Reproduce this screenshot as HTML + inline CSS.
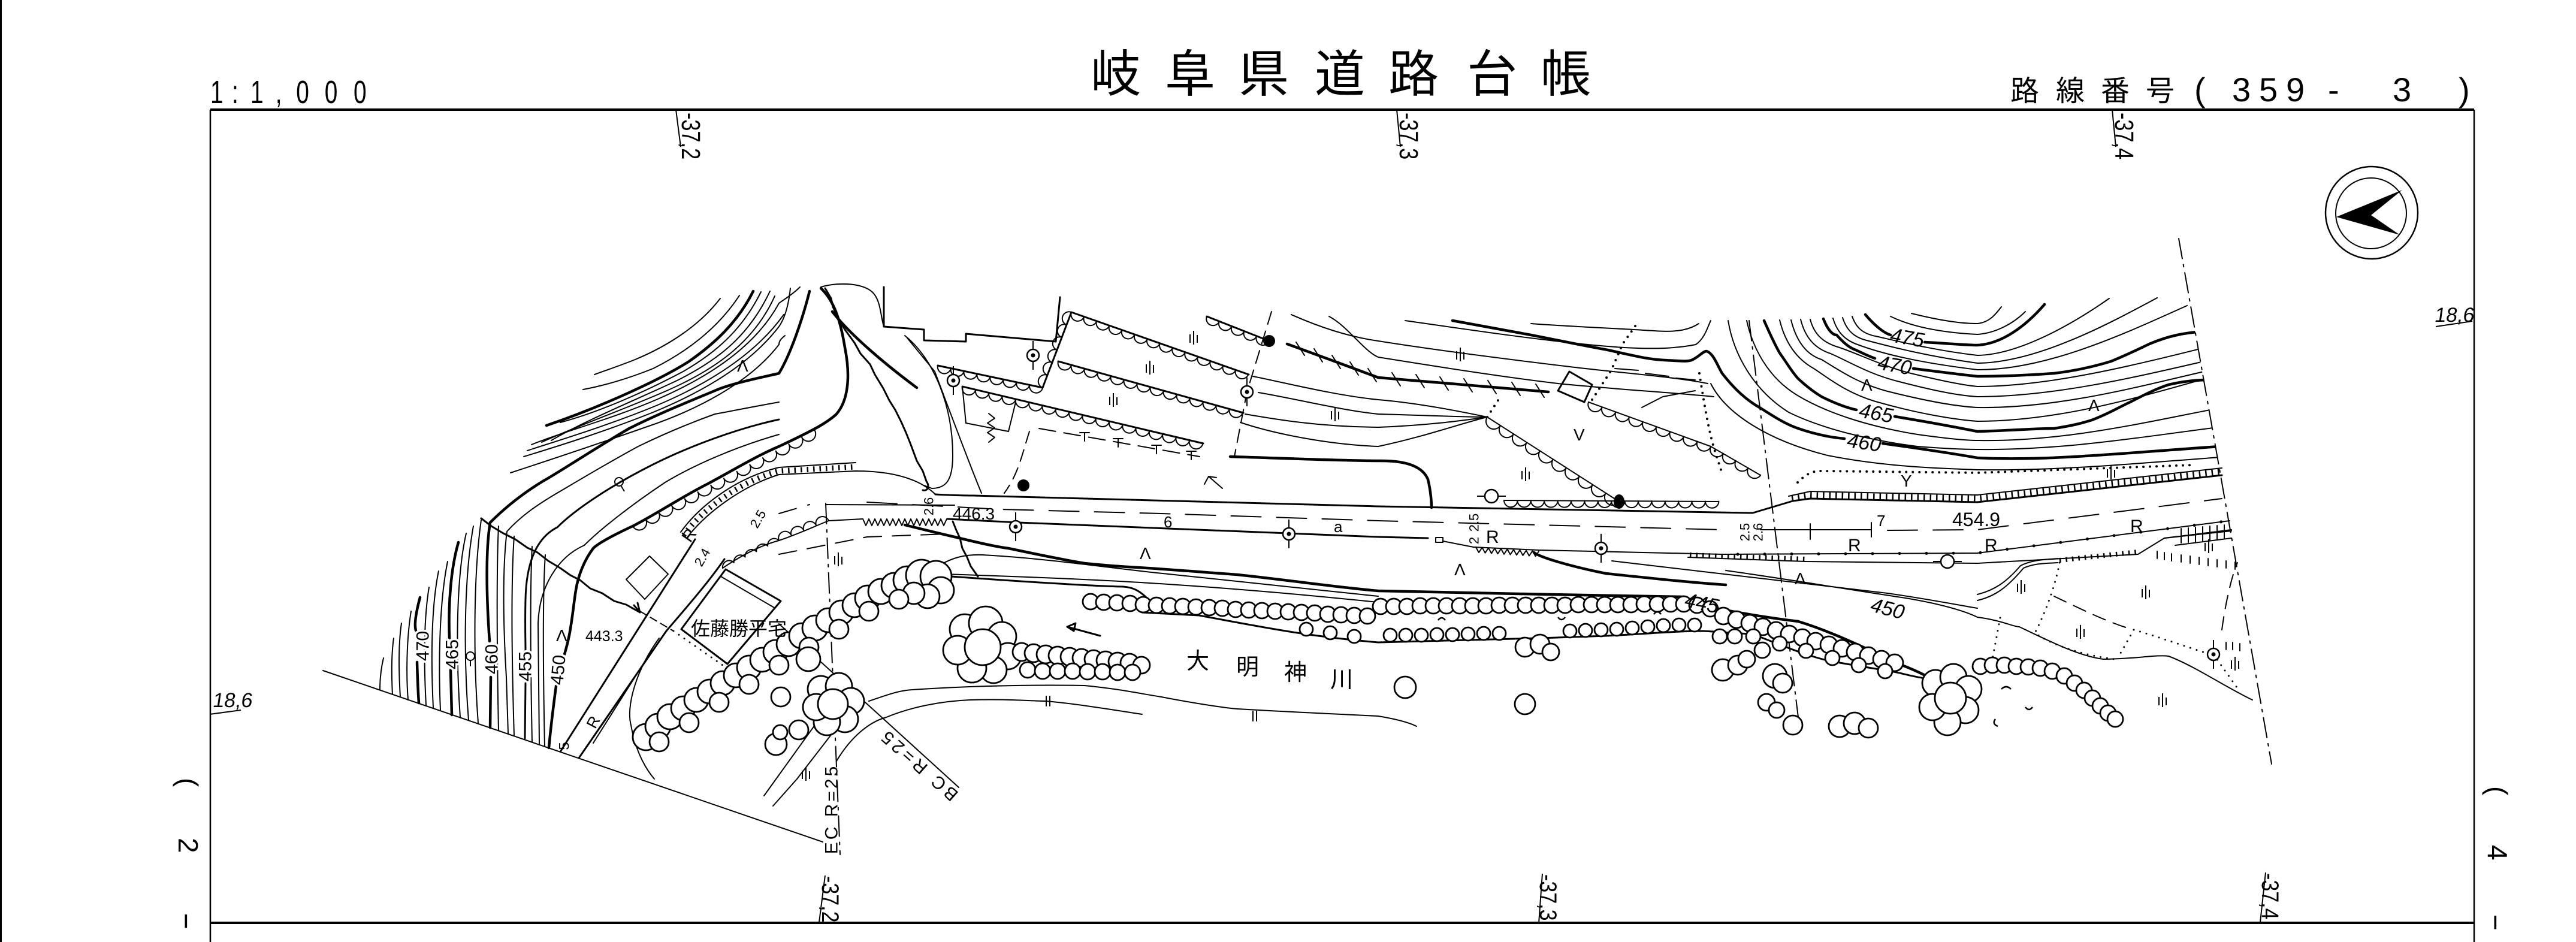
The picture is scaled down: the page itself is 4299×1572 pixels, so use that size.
<!DOCTYPE html>
<html><head><meta charset="utf-8">
<style>
html,body{margin:0;padding:0;background:#fff;width:4299px;height:1572px;overflow:hidden}
svg{display:block}
.l path,.l polygon{fill:none;stroke:#000;stroke-linecap:round;stroke-linejoin:round}
.l .t{stroke-width:2}
.l .m{stroke-width:3}
.l .k{stroke-width:4.5}
.l .dd{stroke-dasharray:34 10 4 10}
.l .dt{stroke-width:4;stroke-dasharray:0 11}
.l .h{stroke-linecap:butt;stroke-width:10;stroke-dasharray:2.5 8}
.tr circle{fill:#fff;stroke:#000;stroke-width:2.8}
text{font-family:"Liberation Sans","Noto Sans CJK JP",sans-serif;fill:#000;stroke:none}
.lb{paint-order:stroke;stroke:#fff;stroke-width:7px}
</style></head>
<body>
<svg width="4299" height="1572" viewBox="0 0 4299 1572" xmlns="http://www.w3.org/2000/svg">
<defs>
<clipPath id="cr"><path d="M2700,0 L3566,0 L3636,398 L3800,1330 L2700,1330 Z"/></clipPath>
<g id="ob"><circle r="10" fill="#fff" stroke="#000" stroke-width="2.5"/><circle r="3.5" fill="#000"/><path d="M0,-10V-24M0,10V24" stroke="#000" stroke-width="2"/></g>
<g id="oc"><circle r="11" fill="#fff" stroke="#000" stroke-width="2.5"/><path d="M-11,0H-24M11,0H24" stroke="#000" stroke-width="2"/></g>
<g id="gr"><path d="M0,0V-14M6,3V-20M12,0V-13" stroke="#000" stroke-width="2" fill="none"/></g>
</defs>
<rect width="4299" height="1572" fill="#fff"/>

<!-- frame -->
<line x1="1.5" y1="0" x2="1.5" y2="1572" stroke="#000" stroke-width="3"/>
<path d="M351,183H4129M351,1540H4129" stroke="#000" stroke-width="4"/>
<path d="M351,183V1572M4129,183V1572" stroke="#000" stroke-width="2.5"/>

<!-- header texts -->
<text transform="translate(351,172) scale(0.72,1)" font-size="54" x="0 50 93 151 199 265 332" y="0">1:1,000</text>
<text font-size="84" y="153" x="1820 1944 2067 2194 2317 2448 2571">岐阜県道路台帳</text>
<text font-size="48" y="168" x="3355 3431 3506 3581">路線番号</text>
<text font-size="56" y="169" x="3662 3725 3770 3815 3885 3993 4103">(359-3)</text>

<!-- grid labels -->
<g stroke="#000" stroke-width="2" fill="none">
<path d="M1128,183 L1136,245"/><path d="M2331,183 L2337,245"/><path d="M3525,183 L3531,245"/>
<path d="M1377,1461 L1367,1539"/><path d="M2574,1458 L2568,1541"/><path d="M3781,1456 L3772,1539"/>
<path d="M350,1192 L402,1185"/><path d="M4065,545 L4126,536"/>
</g>
<text font-size="44" transform="translate(1138,188) rotate(90) scale(0.78,1)">-37,2</text>
<text font-size="44" transform="translate(2336,188) rotate(90) scale(0.78,1)">-37,3</text>
<text font-size="44" transform="translate(3530,188) rotate(90) scale(0.78,1)">-37,4</text>
<text font-size="40" transform="translate(1372,1462) rotate(90) scale(0.85,1)">-37,2</text>
<text font-size="40" transform="translate(2570,1459) rotate(90) scale(0.85,1)">-37,3</text>
<text font-size="40" transform="translate(3775,1457) rotate(90) scale(0.85,1)">-37,4</text>
<text font-size="34" transform="translate(354,1180) skewX(-8)">18,6</text>
<text font-size="34" transform="translate(4062,537) skewX(-8)">18,6</text>
<text font-size="46" transform="translate(298,1298) rotate(90)">(</text>
<text font-size="46" transform="translate(298,1398) rotate(90)">2</text>
<text font-size="46" transform="translate(298,1522) rotate(90) scale(2,1)">-</text>
<text font-size="46" transform="translate(4152,1312) rotate(90)">(</text>
<text font-size="46" transform="translate(4152,1410) rotate(90)">4</text>
<text font-size="46" transform="translate(4152,1524) rotate(90) scale(2,1)">-</text>

<!-- north arrow -->
<circle cx="3958" cy="355" r="77" fill="none" stroke="#000" stroke-width="2.5"/>
<circle cx="3957" cy="356" r="59" fill="none" stroke="#000" stroke-width="2"/>
<path d="M3899,362 L4009,317 L3957,359 L4005,392 Z" fill="#000"/>

<g class="l">
<!-- map boundary -->
<path class="t" d="M539,1119 L1373,1405"/>
<path class="t dd" d="M3636,398 L3791,1275"/>
<path class="t dd" d="M2919,535 L3001,1197"/>
<path class="t dd" d="M1378,840 L1402,1426"/>

<!-- upper-left contours -->
<path class="t" d="M1335,479 C1322,492 1308,500 1300,506 C1260,580 1180,630 1100,665 C1020,700 940,720 887,742"/>
<path class="t" d="M1319,481 C1316,510 1309,532 1300,545 C1250,610 1170,655 1090,688 C1010,720 930,745 874,762"/>
<path class="t" d="M1202,498 C1170,540 1120,575 1060,600 C1030,612 1005,620 992,625"/>
<path class="t" d="M1234,493 C1200,545 1150,585 1090,615 C1040,635 1000,645 973,650"/>
<path class="k" d="M1257,486 C1230,540 1190,575 1150,603 C1100,635 1000,680 912,710"/>
<path class="t" d="M1270,487 C1238,552 1192,590 1140,620 C1080,652 1000,688 935,705"/>
<path class="t" d="M1285,486 C1250,560 1200,600 1130,635 C1060,668 980,700 920,735"/>
<path class="t" d="M1293,494 C1258,572 1192,617 1115,651 C1040,684 960,712 904,738"/>
<path class="t" d="M1308,525 C1258,595 1176,643 1095,677 C1015,710 935,734 880,752"/>
<path class="t" d="M1310,560 C1300,568 1300,572 1300,575 C1250,640 1160,685 1080,712 C1000,740 910,770 852,789"/>
<path class="k" d="M1351,486 C1340,530 1320,590 1300,623 C1270,630 1220,640 1193,652 C1150,670 1100,690 1050,715 C990,750 930,790 906,803 C870,825 840,850 818,872 C810,920 812,1000 817,1070 M819,1130 L818,1214"/>
<path class="t" d="M1300,671 C1250,680 1210,688 1193,691 C1140,710 1100,728 1065,745 C1010,775 960,805 938,818 C900,840 870,860 846,887 C838,950 840,1050 845,1130 L848,1224"/>
<path class="m" d="M1300,700 C1230,715 1150,745 1090,775 C1020,810 960,850 930,880 C890,900 878,950 877,1000 C876,1040 877,1070 877,1085 M877,1140 L876,1232"/>
<path class="t" d="M1300,725 C1230,745 1160,775 1110,805 C1050,845 1000,885 975,910 C930,930 900,980 898,1040 L900,1241"/>
<path class="t" d="M832,878 C828,960 830,1120 832,1219"/>
<path class="t" d="M858,895 C852,980 855,1130 858,1228"/>
<path class="t" d="M888,912 C884,990 886,1140 888,1239"/>
<path class="t" d="M910,926 C905,1000 907,1150 909,1246"/>
<path class="t" d="M640,1098 C636,1115 634,1135 634,1151"/>
<path class="t" d="M657,1065 C652,1100 654,1140 655,1159"/>
<path class="t" d="M670,1040 C664,1080 666,1130 668,1163"/>
<path class="t" d="M686,1020 C678,1070 678,1130 681,1168"/>
<path class="k" d="M701,997 C692,1030 692,1045 694,1052 M696,1105 C697,1140 698,1160 699,1173"/>
<path class="t" d="M716,980 C706,1040 708,1120 711,1177"/>
<path class="t" d="M732,953 C718,1020 720,1120 723,1181"/>
<path class="t" d="M747,937 C732,1010 732,1120 735,1185"/>
<path class="k" d="M765,905 C752,950 748,1010 750,1065 M752,1118 L754,1193"/>
<path class="t" d="M778,890 C762,960 760,1080 768,1197"/>
<path class="t" d="M790,878 C775,960 773,1090 782,1202"/>
<path class="t" d="M803,868 C790,960 790,1100 798,1207"/>
<path class="k" d="M1370,481 C1390,500 1402,530 1410,580 C1420,630 1415,670 1395,692 C1380,705 1364,715 1300,745 C1260,762 1225,784 1180,808 C1140,828 1100,855 1058,877 C1030,890 1000,905 990,915 C975,935 965,960 961,985 C957,1010 955,1035 950,1060 C947,1075 944,1085 942,1092 M928,1145 C924,1175 919,1215 916,1248"/>
<path class="t" d="M1056,878a12 12 0 0 0 21.7-11.4a12 12 0 0 0 21.7-11.4a12 12 0 0 0 21.7-11.4a12 12 0 0 0 21.7-11.4a12 12 0 0 0 21.7-11.4a12 12 0 0 0 21.7-11.4a12 12 0 0 0 21.7-11.4a12 12 0 0 0 21.7-11.4a12 12 0 0 0 21.7-11.4a12 12 0 0 0 21.7-11.4a12 12 0 0 0 21.7-11.4a12 12 0 0 0 21.7-11.4a12 12 0 0 0 21.7-11.4a12 12 0 0 0 21.7-11.4"/>
<!-- cliff lines -->
<path class="m" d="M1377,481 L1387,498 L1390,512 L1398,530 L1410,550 L1426,572 L1436,590 L1452,608 L1460,625 L1474,648 L1484,668 L1494,684 L1504,704 L1512,722 L1520,742 L1530,769 L1540,786 L1546,803 C1552,812 1548,820 1540,818"/>
<path class="m" d="M803,865 L820,878 L840,890 L860,900 L880,914 L897,922 L915,936 L935,948 L952,960 L968,968 L985,982 L1005,990 L1025,1003 L1045,1009 L1068,1022 M1058,1010 L1068,1022 L1064,1006"/>
<path class="k" d="M1389,520 C1420,560 1480,610 1530,647"/>
<path class="t" d="M1370,479 C1400,470 1445,472 1459,491 C1470,505 1470,530 1475,545"/>
<path class="m" d="M1475,479 L1475,545 L1542,550 L1542,568 L1612,570 L1612,557 L1762,570 L1769,496"/>
<path class="t" d="M1510,560 C1560,600 1590,680 1590,760 C1590,800 1580,815 1555,815 L1542,810"/>
<path class="t" d="M1514,564 L1560,620 C1590,700 1620,780 1638,823"/>
<path class="t" d="M1606,645 L1612,706 L1683,720 L1695,671"/>
<path class="t" d="M1650,690 l10,8 l-12,8 l12,8 l-12,8 l12,8 l-10,8"/>

<!-- fields -->
<path class="m" d="M1788,521 L2084,625 M1766,603 L2075,689 M1565,610 L1740,647 M1606,645 L2008,740 M1788,521 L1740,647 M2014,528 L2118,569"/>
<path class="t" d="M1788,521a11 11 0 0 0 21.1 7.4a11 11 0 0 0 21.1 7.4a11 11 0 0 0 21.1 7.4a11 11 0 0 0 21.1 7.4a11 11 0 0 0 21.1 7.4a11 11 0 0 0 21.1 7.4a11 11 0 0 0 21.1 7.4a11 11 0 0 0 21.1 7.4a11 11 0 0 0 21.1 7.4a11 11 0 0 0 21.1 7.4a11 11 0 0 0 21.1 7.4a11 11 0 0 0 21.1 7.4a11 11 0 0 0 21.1 7.4a11 11 0 0 0 21.1 7.4"/>
<path class="t" d="M1766,603a11 11 0 0 0 22 6.1a11 11 0 0 0 22 6.1a11 11 0 0 0 22 6.1a11 11 0 0 0 22 6.1a11 11 0 0 0 22 6.1a11 11 0 0 0 22 6.1a11 11 0 0 0 22 6.1a11 11 0 0 0 22 6.1a11 11 0 0 0 22 6.1a11 11 0 0 0 22 6.1a11 11 0 0 0 22 6.1a11 11 0 0 0 22 6.1a11 11 0 0 0 22 6.1a11 11 0 0 0 22 6.1"/>
<path class="t" d="M1565,610a11 11 0 0 0 21.9 4.6a11 11 0 0 0 21.9 4.6a11 11 0 0 0 21.9 4.6a11 11 0 0 0 21.9 4.6a11 11 0 0 0 21.9 4.6a11 11 0 0 0 21.9 4.6a11 11 0 0 0 21.9 4.6a11 11 0 0 0 21.9 4.6"/>
<path class="t" d="M1606,645a11 11 0 0 0 22.3 5.3a11 11 0 0 0 22.3 5.3a11 11 0 0 0 22.3 5.3a11 11 0 0 0 22.3 5.3a11 11 0 0 0 22.3 5.3a11 11 0 0 0 22.3 5.3a11 11 0 0 0 22.3 5.3a11 11 0 0 0 22.3 5.3a11 11 0 0 0 22.3 5.3a11 11 0 0 0 22.3 5.3a11 11 0 0 0 22.3 5.3a11 11 0 0 0 22.3 5.3a11 11 0 0 0 22.3 5.3a11 11 0 0 0 22.3 5.3a11 11 0 0 0 22.3 5.3a11 11 0 0 0 22.3 5.3a11 11 0 0 0 22.3 5.3a11 11 0 0 0 22.3 5.3"/>
<path class="t" d="M1788,521a11 11 0 0 0 -8 21a11 11 0 0 0 -8 21a11 11 0 0 0 -8 21a11 11 0 0 0 -8 21a11 11 0 0 0 -8 21a11 11 0 0 0 -8 21"/>
<path class="t" d="M2014,528a11 11 0 0 0 20.8 8.2a11 11 0 0 0 20.8 8.2a11 11 0 0 0 20.8 8.2a11 11 0 0 0 20.8 8.2a11 11 0 0 0 20.8 8.2"/>
<path class="t" style="stroke-dasharray:28 14" d="M1734,715 L2002,762"/>
<path class="t" d="M1802,722h16M1810,722v14M1858,732h16M1866,732v14M1922,743h16M1930,743v14M1980,753h16M1988,753v14"/>
<path class="t" style="stroke-dasharray:20 12" d="M1718,720 C1705,760 1700,790 1676,823"/>
<path class="t" style="stroke-dasharray:22 12" d="M2122,520 L2081,654 L2060,762"/>
<path class="t" d="M2040,815 L2017,795 M2010,808 L2017,795 L2030,797"/>

<!-- Z4/Z5 upper lines -->
<path class="t" d="M2155,525 C2200,545 2250,562 2300,569 C2400,585 2520,600 2620,612 C2700,622 2790,628 2850,640"/>
<path class="t" d="M2218,528 C2250,545 2275,585 2300,596 C2400,612 2500,628 2600,640 C2700,650 2790,655 2860,662"/>
<path class="t" d="M2091,628 C2150,640 2230,660 2300,667 C2360,672 2430,685 2482,696"/>
<path class="t" d="M2100,655 C2160,665 2240,685 2300,691 C2380,693 2440,696 2482,696"/>
<path class="t" d="M2078,691 C2130,700 2200,712 2300,713 C2380,710 2440,702 2482,696"/>
<path class="t" d="M2070,705 C2130,725 2220,742 2300,745 C2380,728 2440,706 2482,696"/>
<path class="k" d="M2053,762 C2150,765 2250,769 2300,769 C2350,768 2375,780 2383,800 C2388,820 2389,840 2389,847"/>
<path class="k" d="M2148,574 L2230,604 L2300,630 L2584,654"/>
<path class="t" d="M2163,571l14,22M2193,582l14,22M2223,593l14,22M2253,604l14,22M2283,615l14,22M2323,622l14,22M2363,625l14,22M2403,629l14,22M2443,632l14,22M2483,635l14,22M2523,638l14,22M2563,641l14,22"/>
<path class="t" d="M2345,535 C2450,550 2550,565 2650,575 C2720,582 2780,585 2830,575 C2845,565 2850,545 2855,535"/>
<path class="t" d="M2555,540 C2620,545 2700,548 2760,552 C2800,555 2820,550 2835,540"/>
<path class="k" d="M2424,535 C2480,545 2520,553 2555,559 C2610,570 2650,578 2683,584 C2720,592 2750,600 2778,601 C2800,602 2815,604 2823,601 C2835,596 2842,586 2848,586 C2860,590 2866,610 2874,623 C2895,650 2915,668 2938,681 C2960,695 2980,708 3001,715 C3030,725 3055,730 3078,732"/>
<path class="dt" d="M2657,667 L2689,618 L2708,574 L2734,537"/>
<path class="dt" d="M2836,623 C2845,680 2852,720 2861,750 L2874,790"/>
<path class="dt" d="M2482,696 L2504,662"/>
<path class="t" d="M2695,615 L2734,618 M2746,623 L2785,628 M2797,631 L2829,634 M2740,680 L2775,662 L2829,652"/>
<polygon class="m" points="2619,620 2657,642 2644,671 2600,652"/>
<path class="t" d="M2482,696 L2702,837 M2651,671 L2855,745 L2938,793 M2510,835 L2868,837"/>
<path class="t" d="M2482,696a13 13 0 0 0 22 14.1a13 13 0 0 0 22 14.1a13 13 0 0 0 22 14.1a13 13 0 0 0 22 14.1a13 13 0 0 0 22 14.1a13 13 0 0 0 22 14.1a13 13 0 0 0 22 14.1a13 13 0 0 0 22 14.1a13 13 0 0 0 22 14.1a13 13 0 0 0 22 14.1"/>
<path class="t" d="M2651,671a12 12 0 0 0 22.7 8.2a12 12 0 0 0 22.7 8.2a12 12 0 0 0 22.7 8.2a12 12 0 0 0 22.7 8.2a12 12 0 0 0 22.7 8.2a12 12 0 0 0 22.7 8.2a12 12 0 0 0 22.7 8.2a12 12 0 0 0 22.7 8.2a12 12 0 0 0 22.7 8.2a12 12 0 0 0 20.75 12a12 12 0 0 0 20.75 12a12 12 0 0 0 20.75 12a12 12 0 0 0 20.75 12"/>
<path class="t" d="M2510,835a11 11 0 0 0 22.4 0.1a11 11 0 0 0 22.4 0.1a11 11 0 0 0 22.4 0.1a11 11 0 0 0 22.4 0.1a11 11 0 0 0 22.4 0.1a11 11 0 0 0 22.4 0.1a11 11 0 0 0 22.4 0.1a11 11 0 0 0 22.4 0.1a11 11 0 0 0 22.4 0.1a11 11 0 0 0 22.4 0.1a11 11 0 0 0 22.4 0.1a11 11 0 0 0 22.4 0.1a11 11 0 0 0 22.4 0.1a11 11 0 0 0 22.4 0.1a11 11 0 0 0 22.4 0.1a11 11 0 0 0 22.4 0.1"/>

<!-- right contours (clipped) -->
<g clip-path="url(#cr)">
<path class="t" d="M3190,523 C3230,533 3270,540 3300,540 C3320,538 3330,525 3340,512"/>
<path class="t" d="M3155,528 C3190,545 3240,555 3300,558 C3330,556 3360,540 3380,520"/>
<path class="k" d="M3113,525 C3130,545 3145,556 3155,559 M3212,571 C3250,573 3280,576 3300,576 C3340,574 3380,545 3412,508"/>
<path class="t" d="M3091,528 C3098,548 3110,557 3130,561 C3170,570 3230,585 3300,593 C3370,592 3460,540 3520,498"/>
<path class="t" d="M3075,530 C3082,552 3095,563 3115,568 C3160,580 3220,595 3300,606 C3400,605 3520,540 3600,497"/>
<path class="t" d="M3059,531 C3066,555 3080,568 3100,575 C3140,590 3200,605 3300,617 C3420,618 3560,550 3650,510"/>
<path class="k" d="M3043,532 C3050,550 3058,559 3065,559 C3075,570 3085,580 3097,584 C3110,590 3120,595 3129,598 M3193,615 C3240,621 3280,626 3300,628 C3350,628 3400,625 3428,623 C3470,618 3500,610 3523,603 C3550,592 3570,582 3587,574 C3620,560 3645,555 3690,552"/>
<path class="t" d="M3021,533 C3028,560 3045,573 3070,580 C3100,590 3140,610 3185,622 C3230,633 3270,642 3300,645 C3420,645 3560,610 3700,575"/>
<path class="t" d="M3005,533 C3013,565 3030,582 3055,590 C3085,603 3120,625 3170,637 C3220,650 3265,660 3300,662 C3430,662 3570,628 3700,598"/>
<path class="t" d="M2989,534 C2998,570 3015,592 3040,600 C3065,615 3100,640 3150,653 C3210,668 3260,678 3300,680 C3440,682 3580,642 3700,615"/>
<path class="t" d="M2970,534 C2980,575 3000,600 3027,615 C3050,630 3080,655 3130,670 C3200,690 3260,700 3300,703 C3440,703 3580,660 3705,625"/>
<path class="k" d="M2944,535 C2955,560 2962,575 2970,589 C2985,610 2990,620 3001,632 C3015,645 3030,656 3040,662 C3060,672 3080,680 3098,684 M3162,695 C3210,703 3260,712 3300,720 C3360,718 3400,715 3428,715 C3460,710 3475,706 3491,701 C3520,690 3535,680 3555,671 C3580,658 3600,648 3619,642 C3640,637 3660,634 3705,633"/>
<path class="t" d="M2915,535 C2925,580 2950,630 3000,660 C3050,690 3120,712 3200,725 C3250,732 3280,735 3300,735 C3450,738 3600,700 3710,680"/>
<path class="t" d="M2884,535 C2893,590 2925,650 2985,688 C3040,715 3120,735 3200,745 C3250,749 3280,750 3300,750 C3450,752 3600,725 3710,712"/>
<path class="k" d="M3142,740 C3200,748 3260,757 3300,764 C3420,770 3550,755 3720,744"/>
<path class="t" d="M2855,640 C2880,690 2950,735 3050,760 C3150,780 3250,782 3300,784 C3450,786 3600,770 3720,762"/>
<path class="dt" d="M3000,805 C3010,795 3020,788 3033,786 L3300,789 L3660,776"/>
</g>

<!-- main road -->
<path class="m" d="M1561,825 C1580,826 1600,827 1625,827 L2300,845 L2925,856 L2992,836 L3021,832 L3300,838 L3708,793"/>
<path class="t" d="M2985,828 L3021,820 L3300,826 L3708,781"/>
<path class="h" stroke="#000" d="M2990,831 L3021,826 L3300,832 L3708,787"/>
<path class="t" style="stroke-dasharray:50 26" d="M1447,838 L1670,850 L1938,857 L2300,869 L2874,884"/>
<path class="t" d="M2938,884 L3123,884 M3123,872 V896 M3021,874 V900"/>
<path class="t" style="stroke-dasharray:50 26" d="M3150,885 L3300,884 L3708,832"/>
<path class="t" d="M1378,842 L1593,843"/>
<path class="t" style="stroke-dasharray:30 20" d="M1300,857 L1351,842"/>
<path class="m" d="M1581,866 L1700,872 L2300,896 L2383,898"/>
<path class="t" d="M2396,897 h12 v8 h-12 z M2408,903 L2459,913 L2568,918 L2874,925 L3300,923 L3721,869"/>
<path style="stroke-width:5;stroke-dasharray:0 45" d="M2900,925 L3300,923 L3721,869"/>
<path class="t" d="M2817,930 L3014,937 L3300,940 L3568,925 L3612,898 L3724,886"/>
<path class="h" stroke="#000" style="stroke-width:8" d="M2820,926 L3014,933"/>
<path class="h" stroke="#000" style="stroke-width:8" d="M3437,935 L3568,921"/>
<path class="t" d="M3612,898 L3724,884 M3630,910 L3724,898 M3640,882V906M3652,881V905M3664,880V904M3676,879V903M3688,878V901M3700,877V900M3712,876V898"/>
<path class="t" d="M2463,913l5,9l5.5,-8.3l5,9l5.5,-8.3l5,9l5.5,-8.3l5,9l5.5,-8.3l5,9l5.5,-8.3l5,9l5.5,-8.3l5,9l5.5,-8.3l5,9l5.5,-8.3l5,9l5.5,-8.3l5,9l5.5,-8.3"/>
<path class="t" d="M1440,866l5,11l5,-11l5,11l5,-11l5,11l5,-11l5,11l5,-11l5,11l5,-11l5,11l5,-11l5,11l5,-11l5,11l5,-11l5,11l5,-11l5,11l5,-11l5,11l5,-11l5,11l5,-11l5,11l5,-11l5,11l5,-11"/>

<!-- left road -->
<path class="t" d="M1136,888 C1166,846 1226,798 1300,780 L1428,772"/>
<path class="t" d="M1146,898 C1176,858 1236,812 1300,792 L1428,786 C1480,786 1530,795 1561,825"/>
<path class="h" stroke="#000" style="stroke-width:9" d="M1141,893 C1171,852 1231,805 1300,786 L1428,779"/>
<path class="m" d="M1160,900 L936,1253"/>
<path class="m" d="M1209,933 C1180,975 1140,1020 1112,1053 L966,1265"/>
<path class="t" d="M1100,1065 C1060,1120 1045,1180 1053,1210 C1060,1250 1075,1280 1092,1300"/>
<path class="t" d="M1088,1085 L990,1240"/>
<path class="t" d="M1206,948 C1240,925 1270,910 1300,902 C1330,892 1360,878 1383,869 L1440,866"/>
<path class="t" d="M1206,948a11 11 0 0 1 18.8-9.2a11 11 0 0 1 18.8-9.2a11 11 0 0 1 18.8-9.2a11 11 0 0 1 18.8-9.2a11 11 0 0 1 18.8-9.2a11 11 0 0 1 20.75-8.25a11 11 0 0 1 20.75-8.25a11 11 0 0 1 20.75-8.25a11 11 0 0 1 20.75-8.25"/>
<path class="t" style="stroke-dasharray:30 18" d="M1300,925 L1447,896 L1581,891"/>
<path class="t" style="stroke-dasharray:12 8" d="M1068,1020 L1124,1053"/>
<path class="dt" style="stroke-width:3" d="M1124,1053 L1216,1117"/>
<polygon class="m" points="1211,950 1303,1003 1214,1108 1137,1050"/>
<path class="t" d="M1203,962 L1292,1014"/>
<polygon class="t" points="1084,928 1115,958 1076,1000 1045,967"/>
<path class="t" d="M1300,1041 L1600,1314"/>
<path class="t" d="M1415,1190 L1330,1300 L1290,1345 M1380,1182 L1275,1328"/>

<!-- lines below road / river -->
<path class="k" d="M2560,922 C2570,930 2620,945 2680,957 C2746,964 2820,972 2880,976 2938,979 C3010,986 3080,995 3122,1003 M3180,1022 C3220,1032 3260,1042 3300,1048 C3380,1065 3450,1100 3510,1112 C3560,1115 3595,1105 3619,1107 C3645,1110 3660,1120 3670,1129 C3690,1145 3705,1162 3721,1178"/>
<path class="t" d="M2690,936 C2850,955 3000,972 3150,990 C3220,1000 3270,1010 3300,1015"/>
<path class="t" d="M2880,952 C2980,966 3080,983 3180,998 C3240,1008 3280,1020 3300,1030 C3340,1035 3360,1046 3370,1046 C3420,1070 3470,1095 3510,1100 C3560,1100 3600,1092 3619,1095 C3660,1110 3720,1150 3759,1168"/>
<path class="t" d="M3300,1002 C3330,995 3350,980 3377,948 C3395,940 3415,940 3434,939 M3300,992 C3328,985 3348,972 3372,944 C3392,934 3412,934 3434,932"/>
<path class="dt" style="stroke-width:3" d="M3437,939 C3430,980 3410,1030 3396,1056 C3420,1075 3480,1095 3530,1100"/>
<path class="t" style="stroke-dasharray:22 14" d="M3428,995 C3470,1015 3520,1040 3561,1051"/>
<path class="dt" style="stroke-width:3" d="M3561,1051 C3600,1062 3650,1080 3683,1090 M3561,1051 L3536,1095 M3338,1031 L3325,1100 M3694,1092 L3735,1150"/>
<path class="t" style="stroke-dasharray:22 14" d="M3708,1051 C3715,1000 3725,960 3734,939"/>
<path class="t" d="M3600,920v12M3612,922v12M3624,924v12M3640,926v12M3655,928v12M3670,930v12M3685,932v12M3700,934v12M3715,936v12M3730,938v12M3715,1072v12M3726,1072v12M3738,1074v12"/>
<path class="k" d="M1510,876 C1550,886 1580,893 1593,896 C1630,905 1660,912 1683,915 C1730,925 1780,935 1810,940 C1850,944 1880,946 1899,947 C1950,950 2010,955 2065,959 C2150,968 2230,980 2300,986 C2450,990 2650,993 2810,996 M2868,1016 C2920,1026 2960,1032 3001,1037 C3060,1055 3120,1085 3174,1110 C3195,1118 3210,1125 3225,1134"/>
<path class="t" d="M1565,945 C1590,930 1610,925 1640,926 C1750,932 1850,948 1950,958 C2050,968 2200,985 2300,995"/>
<path class="t" d="M1574,958 C1700,962 1850,968 1950,975 C2100,985 2200,995 2300,1005"/>
<path class="m" d="M1587,962 C1700,970 1820,978 1874,979 C1890,980 1900,985 1912,996"/>
<path class="m" d="M1590,870 L1596,885 L1602,898 L1606,915 L1614,930 L1620,945 L1632,962"/>
<path class="t" d="M1396,1270 C1420,1230 1450,1205 1479,1197 C1520,1180 1570,1170 1619,1168 C1680,1166 1720,1170 1746,1170 C1800,1175 1860,1185 1906,1192"/>
<path class="t" d="M1450,1170 C1480,1160 1500,1152 1523,1151 C1600,1146 1700,1142 1810,1144 C1870,1150 1900,1157 1938,1163 C2000,1175 2050,1182 2065,1183 C2150,1188 2250,1193 2300,1195 C2330,1200 2350,1205 2364,1212"/>
<path class="t" d="M1746,1162v16M1752,1162v16M2091,1187v16M2097,1187v16"/>
<path class="m" d="M1906,1022 L2001,1027 C2100,1045 2180,1062 2300,1072 C2400,1070 2550,1066 2683,1061 C2760,1057 2800,1053 2842,1053 C2880,1055 2910,1058 2925,1058 C2980,1080 3030,1100 3065,1105 C3120,1115 3160,1120 3174,1124 C3190,1128 3210,1132 3225,1134"/>
<path class="m" d="M1781,1046 L1836,1061 M1781,1046 L1795,1040 L1792,1053 Z"/>
</g>

<!-- black dots and symbols -->
<g fill="#000"><circle cx="1708" cy="810" r="10"/><circle cx="2118" cy="569" r="10"/><ellipse cx="2702" cy="837" rx="9" ry="12"/></g>
<use href="#ob" x="1724" y="593"/><use href="#ob" x="1591" y="635"/><use href="#ob" x="2081" y="654"/><use href="#ob" x="1695" y="879"/><use href="#ob" x="2151" y="891"/><use href="#ob" x="2672" y="915"/><use href="#ob" x="3694" y="1092"/>
<use href="#oc" x="2489" y="828"/><use href="#oc" x="3250" y="937"/>
<circle cx="1033" cy="804" r="7" fill="none" stroke="#000" stroke-width="2"/><path d="M1036,810 L1042,820" stroke="#000" stroke-width="2"/>
<circle cx="785" cy="1095" r="7" fill="none" stroke="#000" stroke-width="2"/><path d="M785,1102 V1112" stroke="#000" stroke-width="2"/>

<!-- grass symbols -->
<use href="#gr" x="1986" y="572"/><use href="#gr" x="1913" y="622"/><use href="#gr" x="1852" y="676"/><use href="#gr" x="2222" y="700"/><use href="#gr" x="1393" y="942"/><use href="#gr" x="2431" y="600"/><use href="#gr" x="2540" y="800"/><use href="#gr" x="3517" y="797"/><use href="#gr" x="3680" y="920"/><use href="#gr" x="3367" y="988"/><use href="#gr" x="3575" y="997"/><use href="#gr" x="3466" y="1063"/><use href="#gr" x="3603" y="1177"/><use href="#gr" x="3724" y="1116"/><use href="#gr" x="1339" y="1300"/>

<!-- trees -->
<g class="tr">
<circle cx="1078" cy="1230" r="22"/><circle cx="1098" cy="1212" r="21"/><circle cx="1118" cy="1196" r="21"/><circle cx="1140" cy="1182" r="20"/><circle cx="1162" cy="1168" r="20"/><circle cx="1184" cy="1154" r="20"/><circle cx="1206" cy="1140" r="20"/><circle cx="1228" cy="1127" r="20"/><circle cx="1250" cy="1114" r="20"/><circle cx="1272" cy="1101" r="20"/><circle cx="1294" cy="1088" r="20"/><circle cx="1316" cy="1075" r="20"/><circle cx="1338" cy="1061" r="21"/><circle cx="1360" cy="1048" r="21"/><circle cx="1382" cy="1035" r="20"/><circle cx="1404" cy="1022" r="20"/><circle cx="1426" cy="1010" r="20"/><circle cx="1448" cy="998" r="21"/><circle cx="1470" cy="987" r="21"/><circle cx="1492" cy="977" r="21"/><circle cx="1514" cy="968" r="23"/><circle cx="1538" cy="960" r="26"/><circle cx="1562" cy="962" r="26"/><circle cx="1570" cy="985" r="22"/><circle cx="1548" cy="995" r="20"/><circle cx="1525" cy="990" r="18"/>
<circle cx="1100" cy="1238" r="16"/><circle cx="1150" cy="1206" r="16"/><circle cx="1200" cy="1172" r="16"/><circle cx="1250" cy="1142" r="16"/><circle cx="1300" cy="1110" r="16"/><circle cx="1350" cy="1080" r="16"/><circle cx="1400" cy="1050" r="16"/><circle cx="1450" cy="1020" r="16"/><circle cx="1500" cy="1000" r="16"/>
<circle cx="1303" cy="1163" r="16"/><circle cx="1295" cy="1242" r="18"/><circle cx="1302" cy="1222" r="12"/><circle cx="1333" cy="1218" r="16"/><circle cx="1349" cy="1100" r="20"/>
<circle cx="1370" cy="1150" r="22"/><circle cx="1400" cy="1145" r="22"/><circle cx="1420" cy="1170" r="22"/><circle cx="1410" cy="1200" r="22"/><circle cx="1380" cy="1205" r="22"/><circle cx="1362" cy="1180" r="22"/><circle cx="1390" cy="1175" r="25"/>
<circle cx="1610" cy="1050" r="25"/><circle cx="1645" cy="1040" r="28"/><circle cx="1672" cy="1062" r="24"/><circle cx="1682" cy="1095" r="22"/><circle cx="1658" cy="1118" r="22"/><circle cx="1622" cy="1115" r="24"/><circle cx="1598" cy="1085" r="24"/><circle cx="1640" cy="1080" r="30"/>
<circle cx="1705" cy="1088" r="15"/><circle cx="1725" cy="1090" r="15"/><circle cx="1745" cy="1092" r="15"/><circle cx="1765" cy="1094" r="15"/><circle cx="1785" cy="1096" r="15"/><circle cx="1805" cy="1098" r="15"/><circle cx="1825" cy="1100" r="15"/><circle cx="1845" cy="1102" r="15"/><circle cx="1865" cy="1104" r="15"/><circle cx="1885" cy="1106" r="15"/><circle cx="1905" cy="1110" r="14"/>
<circle cx="1715" cy="1118" r="13"/><circle cx="1740" cy="1120" r="13"/><circle cx="1765" cy="1120" r="13"/><circle cx="1790" cy="1120" r="13"/><circle cx="1815" cy="1121" r="13"/><circle cx="1840" cy="1121" r="13"/><circle cx="1865" cy="1122" r="13"/><circle cx="1890" cy="1122" r="13"/>
<circle cx="1820" cy="1004" r="13"/><circle cx="1842" cy="1005" r="13"/><circle cx="1864" cy="1006" r="13"/><circle cx="1886" cy="1007" r="13"/><circle cx="1908" cy="1009" r="13"/><circle cx="1930" cy="1010" r="13"/><circle cx="1952" cy="1011" r="13"/><circle cx="1974" cy="1012" r="13"/><circle cx="1996" cy="1013" r="13"/><circle cx="2018" cy="1014" r="13"/><circle cx="2040" cy="1015" r="13"/><circle cx="2062" cy="1017" r="13"/><circle cx="2084" cy="1018" r="13"/><circle cx="2106" cy="1019" r="13"/><circle cx="2128" cy="1020" r="13"/><circle cx="2150" cy="1021" r="13"/><circle cx="2172" cy="1022" r="13"/><circle cx="2194" cy="1023" r="13"/><circle cx="2216" cy="1025" r="13"/><circle cx="2238" cy="1026" r="13"/><circle cx="2260" cy="1027" r="13"/><circle cx="2282" cy="1028" r="13"/>
<circle cx="2180" cy="1050" r="11"/><circle cx="2220" cy="1056" r="11"/><circle cx="2260" cy="1062" r="11"/>
<circle cx="2304" cy="1012" r="13"/><circle cx="2326" cy="1012" r="13"/><circle cx="2348" cy="1012" r="13"/><circle cx="2370" cy="1011" r="13"/><circle cx="2392" cy="1011" r="13"/><circle cx="2414" cy="1011" r="13"/><circle cx="2436" cy="1011" r="13"/><circle cx="2458" cy="1011" r="13"/><circle cx="2480" cy="1011" r="13"/><circle cx="2502" cy="1010" r="13"/><circle cx="2524" cy="1010" r="13"/><circle cx="2546" cy="1010" r="13"/><circle cx="2568" cy="1010" r="13"/><circle cx="2590" cy="1010" r="13"/><circle cx="2612" cy="1010" r="13"/><circle cx="2634" cy="1009" r="13"/><circle cx="2656" cy="1009" r="13"/><circle cx="2678" cy="1009" r="13"/><circle cx="2700" cy="1009" r="13"/><circle cx="2722" cy="1009" r="13"/><circle cx="2744" cy="1008" r="13"/><circle cx="2766" cy="1008" r="13"/><circle cx="2788" cy="1008" r="13"/><circle cx="2810" cy="1008" r="13"/><circle cx="2832" cy="1010" r="13"/><circle cx="2854" cy="1016" r="13"/>
<circle cx="2320" cy="1060" r="11"/><circle cx="2346" cy="1060" r="11"/><circle cx="2372" cy="1060" r="11"/><circle cx="2398" cy="1059" r="11"/><circle cx="2424" cy="1059" r="11"/><circle cx="2450" cy="1058" r="11"/><circle cx="2476" cy="1057" r="11"/><circle cx="2502" cy="1057" r="11"/><circle cx="2620" cy="1053" r="11"/><circle cx="2646" cy="1052" r="11"/><circle cx="2672" cy="1051" r="11"/><circle cx="2698" cy="1050" r="11"/><circle cx="2724" cy="1048" r="11"/><circle cx="2750" cy="1046" r="11"/><circle cx="2776" cy="1044" r="11"/><circle cx="2802" cy="1043" r="11"/><circle cx="2828" cy="1043" r="11"/><circle cx="2870" cy="1062" r="12"/><circle cx="2895" cy="1062" r="12"/>
<circle cx="2545" cy="1080" r="16"/><circle cx="2570" cy="1075" r="16"/><circle cx="2588" cy="1088" r="14"/>
<circle cx="2876" cy="1028" r="14"/><circle cx="2898" cy="1034" r="14"/><circle cx="2920" cy="1040" r="14"/><circle cx="2942" cy="1046" r="14"/><circle cx="2964" cy="1052" r="14"/><circle cx="2986" cy="1058" r="14"/><circle cx="3008" cy="1064" r="14"/><circle cx="3030" cy="1070" r="14"/><circle cx="3052" cy="1076" r="14"/><circle cx="3074" cy="1082" r="14"/><circle cx="3096" cy="1088" r="14"/><circle cx="3118" cy="1094" r="14"/><circle cx="3140" cy="1100" r="14"/><circle cx="3162" cy="1106" r="14"/>
<circle cx="2926" cy="1062" r="12"/><circle cx="2970" cy="1074" r="12"/><circle cx="3014" cy="1086" r="12"/><circle cx="3058" cy="1098" r="12"/><circle cx="3102" cy="1110" r="12"/><circle cx="3146" cy="1120" r="12"/>
<circle cx="2345" cy="1147" r="18"/><circle cx="2545" cy="1175" r="17"/><circle cx="2875" cy="1118" r="18"/><circle cx="2900" cy="1110" r="16"/><circle cx="2915" cy="1100" r="14"/><circle cx="2941" cy="1085" r="13"/><circle cx="2962" cy="1128" r="20"/><circle cx="2975" cy="1140" r="16"/><circle cx="2948" cy="1172" r="14"/><circle cx="2965" cy="1185" r="13"/><circle cx="2992" cy="1210" r="16"/><circle cx="3070" cy="1212" r="18"/><circle cx="3095" cy="1207" r="18"/><circle cx="3118" cy="1215" r="16"/>
<circle cx="3230" cy="1140" r="22"/><circle cx="3260" cy="1130" r="22"/><circle cx="3285" cy="1150" r="22"/><circle cx="3280" cy="1185" r="22"/><circle cx="3250" cy="1205" r="22"/><circle cx="3225" cy="1180" r="22"/><circle cx="3255" cy="1165" r="26"/>
<circle cx="3305" cy="1112" r="13"/><circle cx="3325" cy="1110" r="13"/><circle cx="3345" cy="1110" r="13"/><circle cx="3365" cy="1112" r="13"/><circle cx="3385" cy="1113" r="13"/><circle cx="3405" cy="1115" r="13"/><circle cx="3425" cy="1120" r="13"/><circle cx="3445" cy="1128" r="13"/><circle cx="3462" cy="1140" r="13"/><circle cx="3478" cy="1152" r="13"/><circle cx="3492" cy="1165" r="13"/><circle cx="3505" cy="1178" r="13"/><circle cx="3518" cy="1190" r="13"/><circle cx="3530" cy="1200" r="13"/>
</g>
<path d="M3340,1150 q8,-8 16,0 M3380,1180 q6,8 12,0 M3330,1200 q-6,8 4,12 M2400,1035 q6,-8 12,0 M2600,1030 q6,8 12,0 M2760,1025 q6,-8 12,0" fill="none" stroke="#000" stroke-width="2.5"/>

<!-- labels -->
<text font-size="32" x="1153" y="1060">佐藤勝平宅</text>
<text font-size="38" x="1980 2063 2143 2220" y="1116 1126 1135 1147">大明神川</text>
<text font-size="28" x="1590" y="867">446.3</text>
<text font-size="25" x="977" y="1070">443.3</text>
<text font-size="32" x="3258" y="878">454.9</text>
<text font-size="26" x="1942" y="880">6</text>
<text font-size="26" x="2226" y="888">a</text>
<text font-size="26" x="3132" y="878">7</text>
<text font-size="30" x="2480" y="906">R</text>
<text font-size="30" x="3084" y="920">R</text>
<text font-size="30" x="3555" y="888">R</text>
<text font-size="30" x="3312" y="920">R</text>
<text font-size="28" transform="translate(1150,893) rotate(-55)" text-anchor="middle" dominant-baseline="central">R</text>
<text font-size="26" transform="translate(990,1205) rotate(-62)" text-anchor="middle" dominant-baseline="central">R</text>
<text font-size="24" transform="translate(942,1245) rotate(-90)" text-anchor="middle" dominant-baseline="central">5</text>
<text font-size="22" transform="translate(2460,872) rotate(-90)" text-anchor="middle" dominant-baseline="central">2.5</text>
<text font-size="22" transform="translate(2460,902) rotate(-90)" text-anchor="middle" dominant-baseline="central">2</text>
<text font-size="22" transform="translate(2912,888) rotate(-90)" text-anchor="middle" dominant-baseline="central">2.5</text>
<text font-size="22" transform="translate(2934,888) rotate(-90)" text-anchor="middle" dominant-baseline="central">2.6</text>
<text font-size="22" transform="translate(1550,845) rotate(-90)" text-anchor="middle" dominant-baseline="central">2.6</text>
<text font-size="22" transform="translate(1265,866) rotate(-60)" text-anchor="middle" dominant-baseline="central">2.5</text>
<text font-size="22" transform="translate(1172,930) rotate(-60)" text-anchor="middle" dominant-baseline="central">2.4</text>
<text class="lb" font-size="30" transform="translate(706,1078) rotate(-90)" text-anchor="middle" dominant-baseline="central">470</text>
<text class="lb" font-size="30" transform="translate(755,1092) rotate(-90)" text-anchor="middle" dominant-baseline="central">465</text>
<text class="lb" font-size="30" transform="translate(821,1100) rotate(-90)" text-anchor="middle" dominant-baseline="central">460</text>
<text class="lb" font-size="30" transform="translate(877,1112) rotate(-90)" text-anchor="middle" dominant-baseline="central">455</text>
<text class="lb" font-size="30" transform="translate(932,1118) rotate(-85)" text-anchor="middle" dominant-baseline="central">450</text>
<text font-size="34" font-style="italic" transform="translate(3183,564) rotate(10)" text-anchor="middle" dominant-baseline="central">475</text>
<text font-size="34" font-style="italic" transform="translate(3162,610) rotate(10)" text-anchor="middle" dominant-baseline="central">470</text>
<text font-size="34" font-style="italic" transform="translate(3131,690) rotate(10)" text-anchor="middle" dominant-baseline="central">465</text>
<text font-size="34" font-style="italic" transform="translate(3111,739) rotate(8)" text-anchor="middle" dominant-baseline="central">460</text>
<text font-size="34" font-style="italic" transform="translate(2840,1007) rotate(12)" text-anchor="middle" dominant-baseline="central">445</text>
<text font-size="34" font-style="italic" transform="translate(3150,1016) rotate(14)" text-anchor="middle" dominant-baseline="central">450</text>
<text font-size="30" letter-spacing="6" transform="translate(1533,1276) rotate(221.5)" text-anchor="middle" dominant-baseline="central">BC R=25</text>
<text font-size="30" letter-spacing="4" transform="translate(1388,1350) rotate(-90)" text-anchor="middle" dominant-baseline="central">EC R=25</text>
<g font-size="28">
<text x="1230" y="620">Λ</text><text x="1902" y="933">Λ</text><text x="3106" y="652">Λ</text><text x="3485" y="686">Λ</text><text x="928" y="1070">Λ</text><text x="2427" y="960">Λ</text><text x="2995" y="975">Λ</text>
<text x="2626" y="735">V</text><text x="3172" y="812">Y</text>
</g>
</svg>
</body></html>
